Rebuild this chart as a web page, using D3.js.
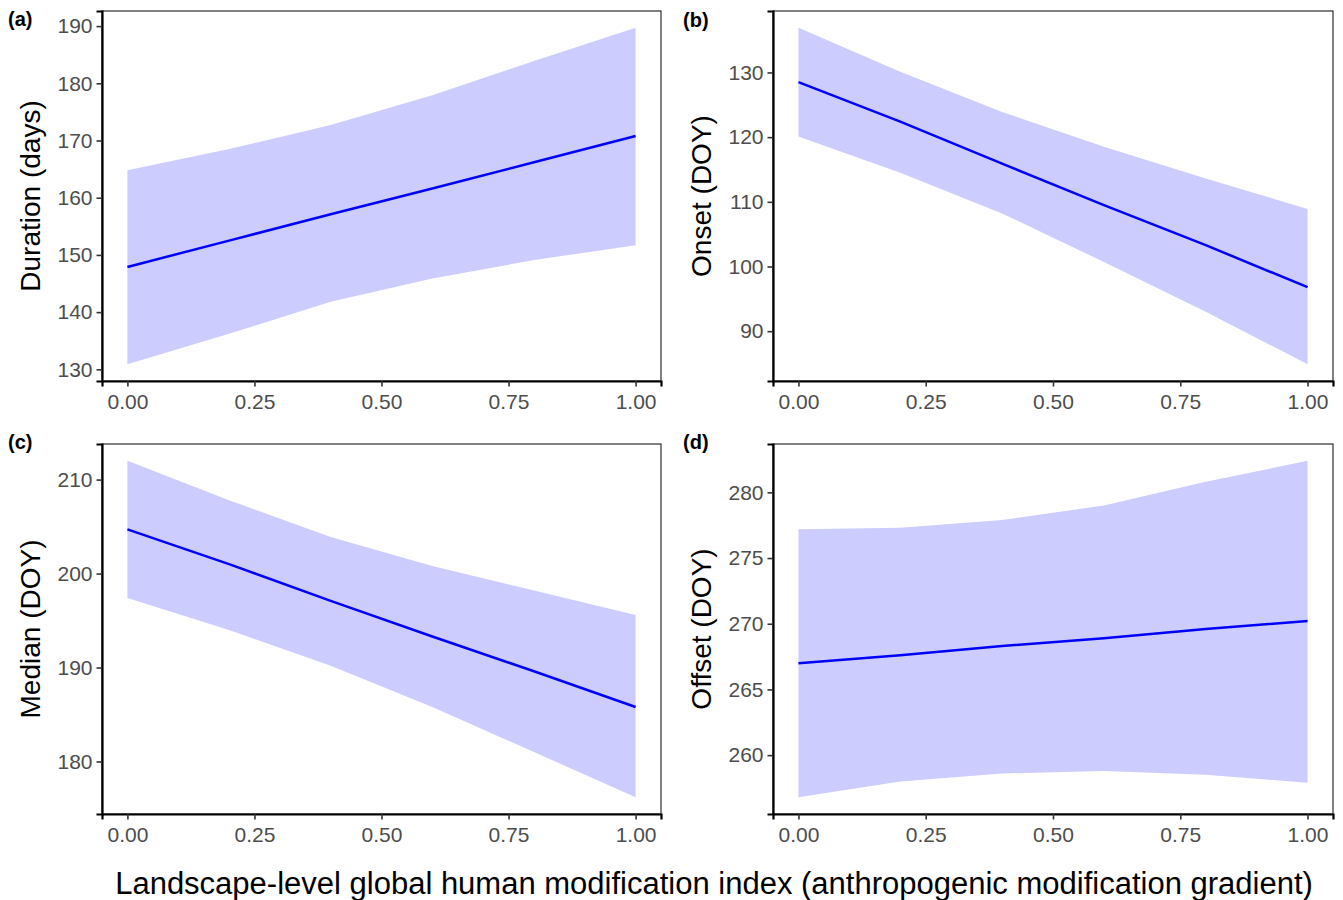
<!DOCTYPE html>
<html>
<head>
<meta charset="utf-8">
<script src="https://cdn.jsdelivr.net/npm/d3@7"></script>
<style>
  html, body { margin: 0; padding: 0; background: #fff; }
  svg { display: block; }
  text { font-family: "Liberation Sans", Arial, sans-serif; }
</style>
</head>
<body>
<svg id="chart" width="1343" height="900"></svg>
<script>
// ---- data ----
const xKnots = [0, 0.2, 0.4, 0.6, 0.8, 1.0];
const xTicks = [0, 0.25, 0.5, 0.75, 1.0];

const durationFit   = [147.9, 152.5, 157.1, 161.6, 166.2, 170.8];
const durationLower = [130.9, 136.2, 141.8, 145.9, 149.1, 151.7];
const durationUpper = [164.8, 168.5, 172.7, 177.9, 183.9, 189.7];
const durationTicks = [130, 140, 150, 160, 170, 180, 190];

const onsetFit   = [128.5, 122.4, 115.9, 109.5, 103.3, 96.8];
const onsetLower = [120.1, 114.5, 108.2, 100.7, 93.0, 84.9];
const onsetUpper = [136.9, 130.1, 123.9, 118.5, 113.6, 108.9];
const onsetTicks = [90, 100, 110, 120, 130];

const medianFit   = [204.7, 201.0, 197.1, 193.3, 189.6, 185.8];
const medianLower = [197.4, 194.0, 190.2, 185.8, 181.0, 176.2];
const medianUpper = [212.0, 207.8, 203.9, 200.8, 198.2, 195.6];
const medianTicks = [180, 190, 200, 210];

const offsetFit   = [267.0, 267.6, 268.3, 268.9, 269.6, 270.2];
const offsetLower = [256.8, 258.0, 258.6, 258.8, 258.5, 257.9];
const offsetUpper = [277.2, 277.3, 277.9, 279.0, 280.8, 282.4];
const offsetTicks = [260, 265, 270, 275, 280];

const panelTags = ["(a)", "(b)", "(c)", "(d)"];
const yTitles = ["Duration (days)", "Onset (DOY)", "Median (DOY)", "Offset (DOY)"];
const xTitle = "Landscape-level global human modification index (anthropogenic modification gradient)";

// ---- layout ----
const panels = [
  { tag: panelTags[0], title: yTitles[0], fit: durationFit, lo: durationLower, hi: durationUpper, ticks: durationTicks,
    x0: 102, x1: 661, y0: 11, y1: 381, titleX: 40, tagX: 8, tagY: 26 },
  { tag: panelTags[1], title: yTitles[1], fit: onsetFit, lo: onsetLower, hi: onsetUpper, ticks: onsetTicks,
    x0: 773, x1: 1333, y0: 11, y1: 381, titleX: 711, tagX: 683, tagY: 27 },
  { tag: panelTags[2], title: yTitles[2], fit: medianFit, lo: medianLower, hi: medianUpper, ticks: medianTicks,
    x0: 102, x1: 661, y0: 444, y1: 814, titleX: 40, tagX: 8, tagY: 449 },
  { tag: panelTags[3], title: yTitles[3], fit: offsetFit, lo: offsetLower, hi: offsetUpper, ticks: offsetTicks,
    x0: 773, x1: 1333, y0: 444, y1: 814, titleX: 711, tagX: 683, tagY: 449 }
];

const svg = d3.select("#chart");
const fmtX = d3.format(".2f");

panels.forEach(p => {
  const g = svg.append("g");
  const x = d3.scaleLinear().domain([-0.05, 1.05]).range([p.x0, p.x1]);
  const ext = [d3.min(p.lo), d3.max(p.hi)];
  const pad = (ext[1] - ext[0]) * 0.05;
  const y = d3.scaleLinear().domain([ext[0] - pad, ext[1] + pad]).range([p.y1, p.y0]);

  const rows = xKnots.map((k, i) => ({ x: k, fit: p.fit[i], lo: p.lo[i], hi: p.hi[i] }));

  // ribbon
  g.append("path")
    .datum(rows)
    .attr("fill", "#CCCCFF")
    .attr("d", d3.area().x(d => x(d.x)).y0(d => y(d.lo)).y1(d => y(d.hi)));

  // fitted line
  g.append("path")
    .datum(rows)
    .attr("fill", "none")
    .attr("stroke", "#0000FF")
    .attr("stroke-width", 2.5)
    .attr("d", d3.line().x(d => x(d.x)).y(d => y(d.fit)));

  // panel border (thin)
  g.append("rect")
    .attr("x", p.x0).attr("y", p.y0)
    .attr("width", p.x1 - p.x0).attr("height", p.y1 - p.y0)
    .attr("fill", "none").attr("stroke", "#1a1a1a").attr("stroke-width", 1.1);

  // axes
  const ax = g.append("g").attr("transform", `translate(0,${p.y1})`)
    .call(d3.axisBottom(x).tickValues(xTicks).tickFormat(fmtX).tickSizeOuter(0).tickSize(5.5).tickPadding(8));
  const ay = g.append("g").attr("transform", `translate(${p.x0},0)`)
    .call(d3.axisLeft(y).tickValues(p.ticks).tickSizeOuter(0).tickSize(5.5).tickPadding(4));

  [ax, ay].forEach(a => {
    a.select(".domain").attr("stroke", "#000").attr("stroke-width", 2.2);
    a.selectAll(".tick line").attr("stroke", "#333333").attr("stroke-width", 1.6);
    a.selectAll(".tick text").attr("fill", "#4D4D4D").style("font-size", "21px")
      .style("font-family", "'Liberation Sans', Arial, sans-serif");
  });

  // y title
  g.append("text")
    .attr("transform", `translate(${p.titleX},${(p.y0 + p.y1) / 2}) rotate(-90)`)
    .attr("text-anchor", "middle")
    .attr("fill", "#000")
    .style("font-size", "28px")
    .text(p.title);

  // tag
  g.append("text")
    .attr("x", p.tagX).attr("y", p.tagY)
    .attr("fill", "#000")
    .style("font-size", "20px").style("font-weight", "bold")
    .text(p.tag);
});

// x title
svg.append("text")
  .attr("x", 714).attr("y", 894)
  .attr("text-anchor", "middle")
  .attr("fill", "#000")
  .style("font-size", "31px")
  .text(xTitle);
</script>
</body>
</html>
